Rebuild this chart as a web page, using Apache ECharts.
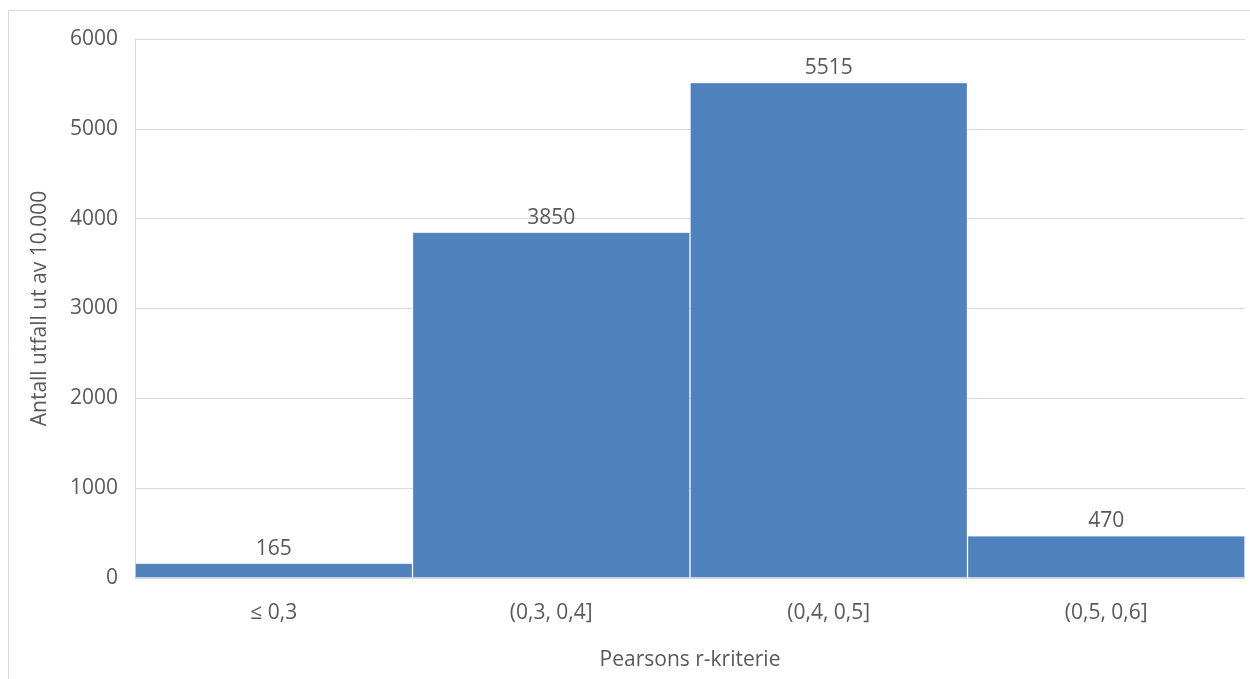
<!DOCTYPE html>
<html>
<head>
<meta charset="utf-8">
<script src="https://cdn.jsdelivr.net/npm/echarts@6/dist/echarts.min.js"></script>
<style>
  html, body { margin: 0; padding: 0; background: #ffffff; }
  #chart { width: 1250px; height: 679px; }
</style>
</head>
<body>
<div id="chart"></div>
<script>
// Distribution of Pearson r across 10,000 outcomes
const categories = ['≤ 0,3', '(0,3, 0,4]', '(0,4, 0,5]', '(0,5, 0,6]'];
const counts = [165, 3850, 5515, 470];
const yTicks = { min: 0, max: 6000, interval: 1000 };

const textColor = '#595959';
const lineColor = '#d9d9d9';
const fontFamily = '"Open Sans", "Noto Sans", sans-serif';
const fontSize = 21;

const chart = echarts.init(document.getElementById('chart'), null, { renderer: 'canvas' });

chart.setOption({
  animation: false,
  backgroundColor: '#ffffff',
  textStyle: { fontFamily: fontFamily, color: textColor },
  graphic: [
    // outer frame (top and left edges)
    { type: 'line', shape: { x1: 8.5, y1: 10.5, x2: 1250, y2: 10.5 }, style: { stroke: lineColor, lineWidth: 1 }, silent: true },
    { type: 'line', shape: { x1: 8.5, y1: 10.5, x2: 8.5, y2: 679 }, style: { stroke: lineColor, lineWidth: 1 }, silent: true }
  ],
  grid: { left: 135, right: 5, top: 39, bottom: 101, containLabel: false },
  xAxis: {
    type: 'category',
    data: categories,
    name: 'Pearsons r-kriterie',
    nameLocation: 'middle',
    nameGap: 72,
    nameTextStyle: { fontSize: fontSize, color: textColor, fontFamily: fontFamily },
    axisLine: { show: true, lineStyle: { color: lineColor, width: 1 } },
    axisTick: { show: false },
    axisLabel: { margin: 25, fontSize: fontSize, color: textColor, fontFamily: fontFamily },
    splitLine: { show: false }
  },
  yAxis: {
    type: 'value',
    min: yTicks.min,
    max: yTicks.max,
    interval: yTicks.interval,
    name: 'Antall utfall ut av 10.000',
    nameLocation: 'middle',
    nameGap: 84,
    nameTextStyle: { fontSize: fontSize, color: textColor, fontFamily: fontFamily },
    axisLine: { show: true, lineStyle: { color: lineColor, width: 1 } },
    axisTick: { show: false },
    axisLabel: {
      margin: 17,
      fontSize: fontSize,
      color: textColor,
      fontFamily: fontFamily,
      formatter: function (v) { return String(v); }
    },
    splitLine: { show: true, lineStyle: { color: lineColor, width: 1 } }
  },
  series: [{
    type: 'bar',
    data: counts,
    barWidth: '100%',
    barCategoryGap: '0%',
    itemStyle: { color: '#4f81bd', borderColor: 'rgba(255,255,255,0.3)', borderWidth: 1 },
    label: {
      show: true,
      position: 'top',
      distance: 4,
      fontSize: fontSize,
      color: textColor,
      fontFamily: fontFamily
    }
  }]
});
</script>
</body>
</html>
